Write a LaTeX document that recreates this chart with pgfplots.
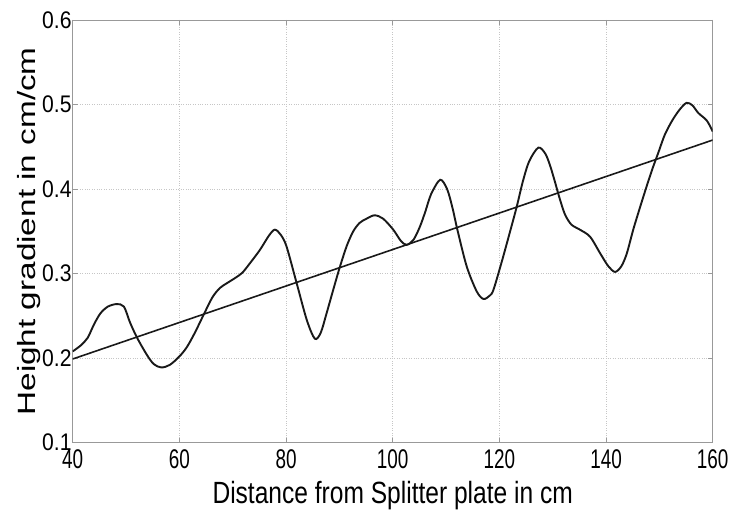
\documentclass[border=0pt]{standalone}
\usepackage{fontspec}
\setmainfont{Liberation Sans}
\newfontfamily\xtickf{Liberation Sans}[FakeStretch=0.70]
\newfontfamily\ytickf{Liberation Sans}[FakeStretch=0.88]
\newfontfamily\xlabf{Liberation Sans}[FakeStretch=0.80]
\usepackage{graphicx}
\usepackage{pgfplots}
\pgfplotsset{compat=1.18}
\pgfplotstableread{
x y
40 0.208
41.5 0.215
42.8 0.224
44.0 0.240
45.2 0.253
46.6 0.261
48.25 0.264
49.6 0.261
50.7 0.243
52 0.225
53.9 0.204
55.2 0.193
56.6 0.189
58.2 0.192
60.0 0.202
61.4 0.213
62.9 0.230
64.6 0.252
66.2 0.272
67.6 0.283
69.0 0.289
70.5 0.295
71.8 0.301
73.2 0.312
75.1 0.328
76.8 0.345
77.9 0.352
79.0 0.346
80.1 0.332
82 0.2885
83.9 0.245
85.4 0.223
86.5 0.230
87.6 0.253
88.9 0.282
90.1 0.308
91.4 0.333
92.6 0.350
93.8 0.360
95.1 0.365
96.6 0.369
98.2 0.365
100.1 0.352
101.5 0.339
102.6 0.334
103.9 0.340
105.1 0.3555
106.1 0.373
107.2 0.394
108.9 0.411
110.2 0.400
111.2 0.378
112.2 0.350
113.9 0.308
115.75 0.279
117 0.270
118.2 0.274
118.9 0.281
120.4 0.313
121.8 0.345
123.25 0.379
124.4 0.409
125.6 0.433
127.3 0.449
128.6 0.442
129.5 0.428
130.4 0.409
131.3 0.389
132.3 0.370
133.5 0.358
135.1 0.352
137 0.3437
138.9 0.324
140.4 0.309
141.7 0.302
142.9 0.309
143.9 0.324
145.1 0.352
146.4 0.379
147.6 0.403
148.7 0.424
149.8 0.443
151.0 0.464
152.4 0.481
153.8 0.494
155.1 0.502
156.2 0.499
157.3 0.490
158.9 0.481
160 0.468
}\curve
\pgfplotstableread{
x y
40 0.199
160 0.458
}\fitline
\begin{document}
\begin{tikzpicture}
\begin{axis}[
  width=640pt, height=422.7pt, scale only axis,
  xmin=40, xmax=160, ymin=0.1, ymax=0.6,
  xtick={40,60,80,100,120,140,160},
  ytick={0.1,0.2,0.3,0.4,0.5,0.6},
  xticklabels={40,60,80,100,120,140,160},
  yticklabels={0.1,0.2,0.3,0.4,0.5,0.6},
  /pgf/number format/assume math mode=true,
  xticklabel style={font=\xtickf\fontsize{27}{28}\selectfont, inner sep=0pt, anchor=north, yshift=-7pt},
  yticklabel style={font=\ytickf\fontsize{24}{25}\selectfont, inner sep=1pt, anchor=east},
  axis line style={draw=gray!80, line width=0.9pt},
  tick style={draw=gray!80, line width=0.8pt},
  major tick length=5pt,
  tick align=inside,
  grid=major,
  major grid style={dotted, draw=gray!45, line width=0.8pt},
  xlabel={\xlabf\fontsize{30.7}{32}\selectfont Distance from Splitter plate in cm},
  xlabel style={at={(axis description cs:0.5,0)}, anchor=base, yshift=-60.5pt, inner sep=0pt},
  ylabel={\scalebox{1}[0.75]{\fontsize{33.3}{34}\selectfont Height gradient in cm/cm}},
  ylabel style={at={(axis description cs:-0.0589,0.5)}, rotate=0, anchor=base, inner sep=0pt},
  clip=true,
]
\addplot[black!90, line width=1.9pt, smooth, tension=0.5] table[x=x,y=y] {\curve};
\addplot[black!90, line width=1.6pt] table[x=x,y=y] {\fitline};
\end{axis}
\path ([xshift=-72.7pt,yshift=-67.3pt]current axis.south west) rectangle ([xshift=17.3pt,yshift=20pt]current axis.north east);
\end{tikzpicture}
\end{document}
